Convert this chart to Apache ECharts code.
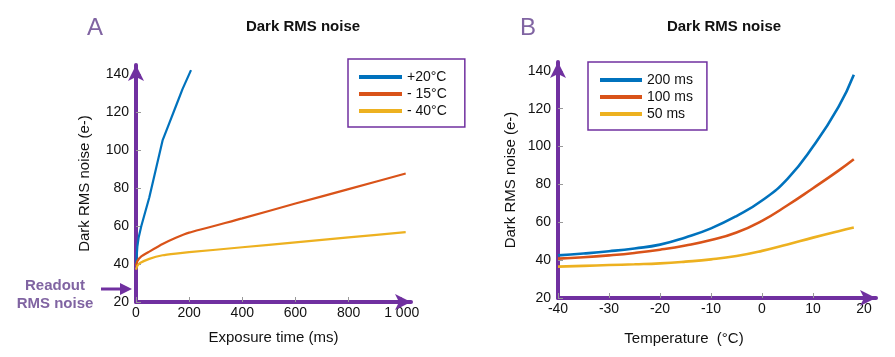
<!DOCTYPE html>
<html>
<head>
<meta charset="utf-8">
<script src="https://cdn.jsdelivr.net/npm/echarts@6/dist/echarts.min.js"></script>
<style>html,body{margin:0;padding:0;background:#fff}#c{width:895px;height:357px}</style>
</head>
<body>
<div id="c"></div>
<script>
// ---- Panel A: dark RMS noise vs exposure time ----
const namesA = ['+20°C', '- 15°C', '- 40°C'];
const aBlueT = [0, 5, 10, 20, 30, 50, 75, 100, 125, 150, 175, 207];
const aBlueV = [39, 49, 54, 60, 65, 75, 90, 105, 114, 123, 132, 142];
const aRedT = [0, 5, 20, 50, 100, 150, 200, 400, 600, 800, 1015];
const aRedV = [39, 41.5, 44, 46.5, 50.5, 53.8, 56.5, 64, 71.8, 79.4, 87.6];
const aYelT = [0, 5, 15, 50, 100, 150, 200, 400, 600, 800, 1015];
const aYelV = [37, 39, 40.5, 42.7, 44.6, 45.5, 46.2, 48.8, 51.4, 54, 56.8];
const xTicksA = ['0', '200', '400', '600', '800', '1 000'];
const yTicks = ['20', '40', '60', '80', '100', '120', '140'];

// ---- Panel B: dark RMS noise vs temperature ----
const namesB = ['200 ms', '100 ms', '50 ms'];
const tempB = [-40, -35, -30, -25, -20, -15, -10, -5, 0, 5, 10, 15, 18];
const b200 = [42.5, 43.5, 44.7, 46.2, 48.2, 52, 56.8, 63.3, 71.5, 83, 100, 121, 138];
const b100 = [40.8, 41.5, 42.5, 43.8, 45.5, 47.7, 50.6, 54.6, 60.8, 69, 78, 87.3, 93.3];
const b50 = [36.6, 37, 37.4, 37.8, 38.3, 39.2, 40.4, 42.2, 44.9, 48.3, 51.9, 55.3, 57.2];
const xTicksB = ['-40', '-30', '-20', '-10', '0', '10', '20'];

const colors = ['#0072BD', '#D95319', '#EDB120'];
const purple = '#7030A0';
const lightPurple = '#8064A2';
const FONT = 'Arial, "Liberation Sans", sans-serif';

function zip(xs, ys) { return xs.map((x, i) => [x, ys[i]]); }

const chart = echarts.init(document.getElementById('c'), null, { renderer: 'canvas' });

function xAxisCommon(min, max, step, labels, gap, margin, namePad, name) {
  return {
    type: 'value', min: min, max: max, interval: step,
    name: name, nameLocation: 'middle', nameGap: gap,
    nameTextStyle: { color: '#111', fontSize: 15, fontFamily: FONT, padding: namePad },
    axisLine: { show: true, onZero: false, lineStyle: { color: purple, width: 4 }, symbol: ['none', 'arrow'], symbolSize: [12, 16] },
    axisTick: { show: true, inside: true, length: 5, lineStyle: { color: '#999', width: 1 } },
    axisLabel: {
      color: '#111', fontSize: 14, fontFamily: FONT, margin: margin, showMaxLabel: false,
      formatter: function (v) {
        const idx = Math.round((v - min) / step);
        return labels[idx] !== undefined && Math.abs(v - (min + idx * step)) < 1e-6 ? labels[idx] : '';
      }
    },
    splitLine: { show: false }
  };
}
function yAxisCommon(max, gap) {
  return {
    type: 'value', min: 20, max: max, interval: 20,
    name: 'Dark RMS noise (e-)', nameLocation: 'middle', nameGap: gap, nameRotate: 90,
    nameTextStyle: { color: '#111', fontSize: 15, fontFamily: FONT },
    axisLine: { show: true, onZero: false, lineStyle: { color: purple, width: 4 }, symbol: ['none', 'arrow'], symbolSize: [12, 16] },
    axisTick: { show: true, inside: true, length: 5, lineStyle: { color: '#999', width: 1 } },
    axisLabel: {
      color: '#111', fontSize: 14, fontFamily: FONT, margin: 7, showMaxLabel: false,
      formatter: function (v) {
        const idx = Math.round((v - 20) / 20);
        return Math.abs(v - (20 + idx * 20)) < 1e-6 && yTicks[idx] ? yTicks[idx] : '';
      }
    },
    splitLine: { show: false }
  };
}

const option = {
  animation: false,
  backgroundColor: '#fff',
  grid: [
    { left: 136, top: 65, width: 275, height: 237 },
    { left: 558, top: 62, width: 318, height: 236 }
  ],
  xAxis: [
    Object.assign(xAxisCommon(0, 1035, 200, xTicksA, 28, 4, [0, 0, 0, 0], 'Exposure time (ms)'), { gridIndex: 0 }),
    Object.assign(xAxisCommon(-40, 22.35, 10, xTicksB, 33, 4, [0, 66, 0, 0], 'Temperature  (°C)'), { gridIndex: 1 })
  ],
  yAxis: [
    Object.assign(yAxisCommon(144.7, 44), { gridIndex: 0 }),
    Object.assign(yAxisCommon(144.7, 40), { gridIndex: 1 })
  ],
  legend: [
    {
      data: namesA, orient: 'vertical', left: 348, top: 59,
      padding: [10, 18, 8, 11], itemGap: 1, itemWidth: 43, itemHeight: 4, icon: 'rect',
      borderColor: purple, borderWidth: 1.5, backgroundColor: '#fff',
      textStyle: { color: '#111', fontSize: 14, fontFamily: FONT, lineHeight: 16 },
      selectedMode: false
    },
    {
      data: namesB, orient: 'vertical', left: 588, top: 62,
      padding: [10, 14, 8, 12], itemGap: 1, itemWidth: 42, itemHeight: 4, icon: 'rect',
      borderColor: purple, borderWidth: 1.5, backgroundColor: '#fff',
      textStyle: { color: '#111', fontSize: 14, fontFamily: FONT, lineHeight: 16 },
      selectedMode: false
    }
  ],
  series: [
    { name: namesA[0], type: 'line', xAxisIndex: 0, yAxisIndex: 0, data: zip(aBlueT, aBlueV), showSymbol: false, smooth: false, lineStyle: { width: 2.2, color: colors[0] }, itemStyle: { color: colors[0] } },
    { name: namesA[1], type: 'line', xAxisIndex: 0, yAxisIndex: 0, data: zip(aRedT, aRedV), showSymbol: false, smooth: 0.15, lineStyle: { width: 2.2, color: colors[1] }, itemStyle: { color: colors[1] } },
    { name: namesA[2], type: 'line', xAxisIndex: 0, yAxisIndex: 0, data: zip(aYelT, aYelV), showSymbol: false, smooth: 0.15, lineStyle: { width: 2.2, color: colors[2] }, itemStyle: { color: colors[2] } },
    { name: namesB[0], type: 'line', xAxisIndex: 1, yAxisIndex: 1, data: zip(tempB, b200), showSymbol: false, smooth: 0.5, lineStyle: { width: 2.6, color: colors[0] }, itemStyle: { color: colors[0] } },
    { name: namesB[1], type: 'line', xAxisIndex: 1, yAxisIndex: 1, data: zip(tempB, b100), showSymbol: false, smooth: 0.5, lineStyle: { width: 2.6, color: colors[1] }, itemStyle: { color: colors[1] } },
    { name: namesB[2], type: 'line', xAxisIndex: 1, yAxisIndex: 1, data: zip(tempB, b50), showSymbol: false, smooth: 0.5, lineStyle: { width: 2.6, color: colors[2] }, itemStyle: { color: colors[2] } }
  ],
  graphic: [
    { type: 'text', x: 95, y: 28, style: { text: 'A', fill: lightPurple, font: '24px ' + FONT, textAlign: 'center', textVerticalAlign: 'middle' } },
    { type: 'text', x: 528, y: 28, style: { text: 'B', fill: lightPurple, font: '24px ' + FONT, textAlign: 'center', textVerticalAlign: 'middle' } },
    { type: 'text', x: 303, y: 27, style: { text: 'Dark RMS noise', fill: '#111', font: 'bold 15px ' + FONT, textAlign: 'center', textVerticalAlign: 'middle' } },
    { type: 'text', x: 724, y: 27, style: { text: 'Dark RMS noise', fill: '#111', font: 'bold 15px ' + FONT, textAlign: 'center', textVerticalAlign: 'middle' } },
    { type: 'text', x: 55, y: 286, style: { text: 'Readout', fill: lightPurple, font: 'bold 15px ' + FONT, textAlign: 'center', textVerticalAlign: 'middle' } },
    { type: 'text', x: 55, y: 304, style: { text: 'RMS noise', fill: lightPurple, font: 'bold 15px ' + FONT, textAlign: 'center', textVerticalAlign: 'middle' } },
    { type: 'line', shape: { x1: 101, y1: 289, x2: 124, y2: 289 }, style: { stroke: purple, lineWidth: 3 } },
    { type: 'polygon', shape: { points: [[120, 283], [132, 289], [120, 295]] }, style: { fill: purple } }
  ]
};
chart.setOption(option);
</script>
</body>
</html>
